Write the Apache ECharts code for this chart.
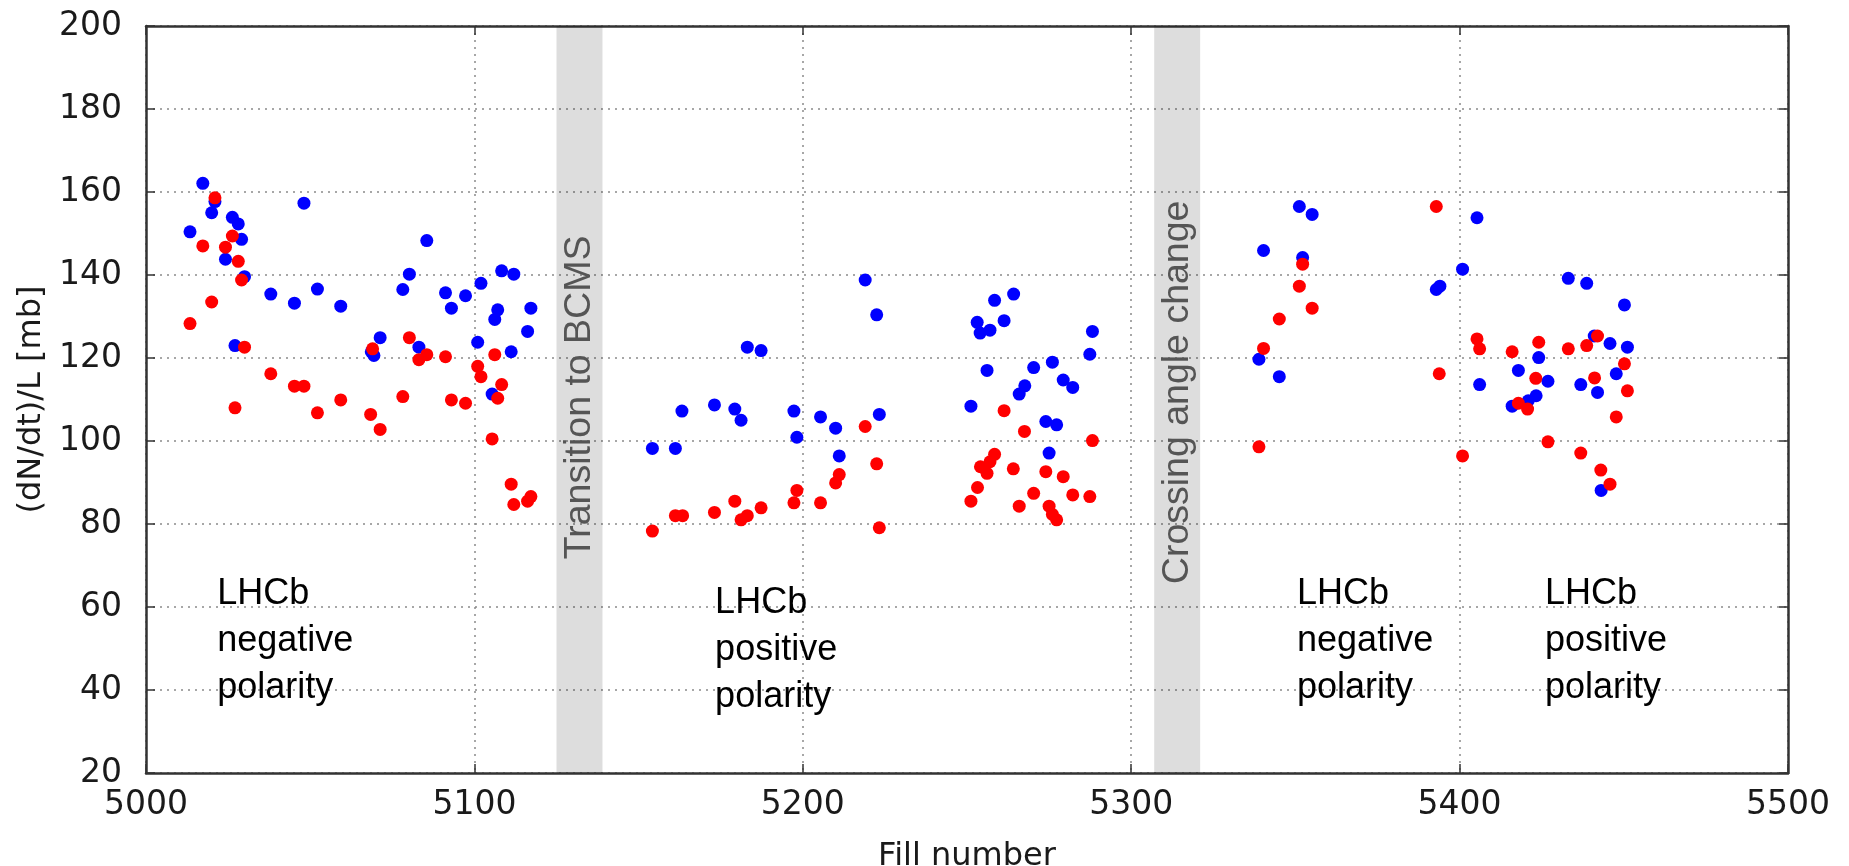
<!DOCTYPE html>
<html>
<head>
<meta charset="utf-8">
<script src="https://cdn.jsdelivr.net/npm/echarts@6/dist/echarts.min.js"></script>
<style>
html,body{margin:0;padding:0;background:#fff;}
#chart{width:1849px;height:866px;}
</style>
</head>
<body>
<div id="chart"></div>
<script>
// ---- data ----
const xTicks = [5000, 5100, 5200, 5300, 5400, 5500];
const yTicks = [20, 40, 60, 80, 100, 120, 140, 160, 180, 200];

const blueFill = [
  5017.3,5021.0,5020.0,5013.4,5026.3,5028.1,5029.1,5024.2,5030.0,5048.1,5085.5,5038.0,5045.2,5052.2,5059.3,
  5027.1,5068.6,5069.4,5071.3,5078.2,5080.2,5083.1,5091.2,5093.0,5097.3,5102.0,5101.0,5108.3,5112.0,5107.1,
  5106.2,5117.2,5116.2,5111.2,5105.4,
  5154.2,5161.2,5163.2,5173.1,5179.3,5181.2,5183.1,5187.3,5197.3,5198.2,5205.4,5210.0,5211.1,5219.0,5222.5,5223.3,
  5251.2,5253.1,5254.0,5257.0,5256.1,5258.4,5261.3,5264.2,5270.3,5267.6,5265.9,5276.0,5279.3,5282.2,5274.0,
  5277.3,5275.0,5288.2,5287.4,
  5340.3,5351.2,5355.1,5352.2,5338.9,5345.1,
  5405.3,5400.9,5392.9,5394.0,5433.1,5438.7,5450.2,5406.1,5417.9,5424.1,5416.0,5420.9,5423.3,5426.9,5436.9,
  5442.0,5441.0,5445.8,5451.1,5447.7,5443.1
];
const blueValue = [
  162.1,157.7,155.0,150.4,153.9,152.3,148.6,143.8,139.6,157.3,148.3,135.4,133.2,136.6,132.5,
  123.0,121.5,120.6,124.9,136.5,140.2,122.6,135.7,132.0,135.0,138.0,123.8,141.0,140.2,131.6,
  129.3,132.0,126.4,121.5,111.3,
  98.2,98.2,107.2,108.7,107.7,105.0,122.6,121.8,107.2,100.9,105.8,103.1,96.4,138.8,130.4,106.4,
  108.4,128.6,126.0,126.7,117.0,133.9,129.0,135.4,117.7,113.3,111.3,119.0,114.7,112.9,104.7,
  103.9,97.1,126.4,120.9,
  145.9,156.5,154.6,144.2,119.7,115.5,
  153.8,141.4,136.5,137.3,139.2,138.0,132.8,113.6,117.0,120.1,108.4,109.7,110.9,114.4,113.6,
  111.7,125.3,123.5,122.6,116.2,88.1
];

const redFill = [
  5021.0,5017.3,5013.4,5026.3,5024.2,5028.1,5029.1,5020.0,5030.0,5027.1,5038.0,5045.2,5048.1,5052.2,5059.3,
  5068.4,5071.3,5069.0,5078.2,5080.2,5083.1,5085.5,5091.2,5093.0,5097.3,5101.0,5102.0,5106.2,5108.3,5107.1,
  5105.4,5111.2,5112.0,5116.2,5117.2,
  5154.2,5161.2,5163.4,5173.1,5179.3,5181.2,5183.1,5187.3,5197.3,5198.2,5205.4,5210.0,5211.1,5219.0,5222.5,5223.3,
  5251.2,5253.2,5254.1,5256.1,5257.0,5258.4,5261.3,5267.5,5264.1,5265.9,5270.3,5274.0,5275.0,5276.0,5277.3,
  5279.3,5282.2,5287.4,5288.2,
  5338.9,5340.3,5345.1,5351.2,5352.2,5355.1,
  5392.9,5393.8,5400.9,5405.3,5406.1,5416.0,5424.1,5423.2,5417.9,5420.7,5426.9,5433.1,5438.7,5442.0,5441.1,
  5436.9,5443.0,5445.8,5450.2,5451.1,5447.7
];
const redValue = [
  158.6,147.0,128.3,149.4,146.7,143.3,138.8,133.5,122.6,108.0,116.2,113.2,113.2,106.8,109.9,
  106.4,102.8,122.2,110.7,124.9,119.6,120.8,120.3,109.9,109.1,118.0,115.5,120.8,113.6,110.3,
  100.5,89.6,84.7,85.5,86.6,
  78.3,82.0,82.0,82.8,85.5,81.0,82.0,83.9,85.1,88.1,85.1,89.9,91.9,103.5,94.5,79.1,
  85.5,88.8,93.8,92.2,95.0,96.8,107.3,102.3,93.3,84.3,87.4,92.6,84.3,82.3,81.0,
  91.4,87.0,86.6,100.1,
  98.6,122.3,129.4,137.3,142.6,132.0,
  156.5,116.2,96.4,124.6,122.2,121.5,123.8,115.1,109.1,107.7,99.8,122.2,123.0,125.3,115.2,
  97.1,93.0,89.6,118.6,112.1,105.8
];

// shaded periods [startFill, endFill]
const bandStart = [5125, 5307];
const bandEnd = [5139, 5321];
const bandLabels = ['Transition to BCMS', 'Crossing angle change'];
const bandLabelStartY = [71.5, 65.5];

// polarity annotations
const noteLabels = ['LHCb\nnegative\npolarity', 'LHCb\npositive\npolarity', 'LHCb\nnegative\npolarity', 'LHCb\npositive\npolarity'];
const noteFill = [5021.7, 5173.3, 5350.5, 5426.0];
const noteTopValue = [68.8, 66.6, 68.8, 68.8];

// ---- chart ----
const pairs = (xs, ys) => xs.map((x, i) => [x, ys[i]]);
const chart = echarts.init(document.getElementById('chart'), null, {renderer: 'canvas'});

const tickFont = {fontFamily: 'DejaVu Sans', fontSize: 33, color: '#1a1a1a', formatter: v => String(v)};
const frameLine = {show: true, onZero: false, lineStyle: {color: '#333', width: 2.5}};
const inTick = {show: true, inside: true, length: 9, lineStyle: {color: '#333', width: 1.5}};
const grid = {show: true, lineStyle: {type: [2, 5], color: '#8a8a8a', width: 1.5}};

const option = {
  animation: false,
  backgroundColor: '#ffffff',
  grid: {left: 146, top: 26, width: 1642, height: 747, containLabel: false, outerBoundsMode: 'none'},
  xAxis: [
    {type: 'value', min: xTicks[0], max: xTicks[xTicks.length - 1], interval: 100, position: 'bottom',
     axisLine: frameLine, axisTick: inTick, splitLine: grid,
     axisLabel: Object.assign({margin: 16}, tickFont),
     name: 'Fill number', nameLocation: 'middle', nameGap: 68,
     nameTextStyle: {fontFamily: 'DejaVu Sans', fontSize: 32, color: '#1a1a1a'}},
    {type: 'value', min: xTicks[0], max: xTicks[xTicks.length - 1], interval: 100, position: 'top',
     axisLine: frameLine, axisTick: inTick, splitLine: {show: false}, axisLabel: {show: false}}
  ],
  yAxis: [
    {type: 'value', min: yTicks[0], max: yTicks[yTicks.length - 1], interval: 20, position: 'left',
     axisLine: frameLine, axisTick: inTick, splitLine: grid,
     axisLabel: Object.assign({margin: 24}, tickFont),
     name: '(dN/dt)/L [mb]', nameLocation: 'middle', nameGap: 98, nameRotate: 90,
     nameTextStyle: {fontFamily: 'DejaVu Sans', fontSize: 32, color: '#1a1a1a'}},
    {type: 'value', min: yTicks[0], max: yTicks[yTicks.length - 1], interval: 20, position: 'right',
     axisLine: frameLine, axisTick: inTick, splitLine: {show: false}, axisLabel: {show: false}}
  ],
  series: [
    {type: 'scatter', name: 'bands', data: [], silent: true, z: 1,
     markArea: {silent: true, itemStyle: {color: 'rgba(0,0,0,0.135)'},
       data: bandStart.map((s, i) => [{xAxis: s}, {xAxis: bandEnd[i]}])}},
    {type: 'scatter', name: 'blue', data: pairs(blueFill, blueValue), symbol: 'circle', symbolSize: 13,
     itemStyle: {color: '#0000ff', opacity: 1}, z: 3},
    {type: 'scatter', name: 'red', data: pairs(redFill, redValue), symbol: 'circle', symbolSize: 13,
     itemStyle: {color: '#ff0000', opacity: 1}, z: 4}
  ]
};
chart.setOption(option);

const graphics = [];
bandLabels.forEach((t, i) => {
  const p = chart.convertToPixel({seriesIndex: 1}, [(bandStart[i] + bandEnd[i]) / 2, bandLabelStartY[i]]);
  graphics.push({type: 'text', x: p[0], y: p[1], rotation: Math.PI / 2, z: 10,
    style: {text: t, font: '37.5px "Liberation Sans", Arial, sans-serif', fill: '#555555',
            align: 'left', verticalAlign: 'middle'}});
});
noteLabels.forEach((t, i) => {
  const p = chart.convertToPixel({seriesIndex: 1}, [noteFill[i], noteTopValue[i]]);
  graphics.push({type: 'text', x: p[0], y: p[1], z: 10,
    style: {text: t, font: '36px "Liberation Sans", Arial, sans-serif', fill: '#000000',
            lineHeight: 47, align: 'left', verticalAlign: 'top'}});
});
chart.setOption({graphic: graphics});
</script>
</body>
</html>
